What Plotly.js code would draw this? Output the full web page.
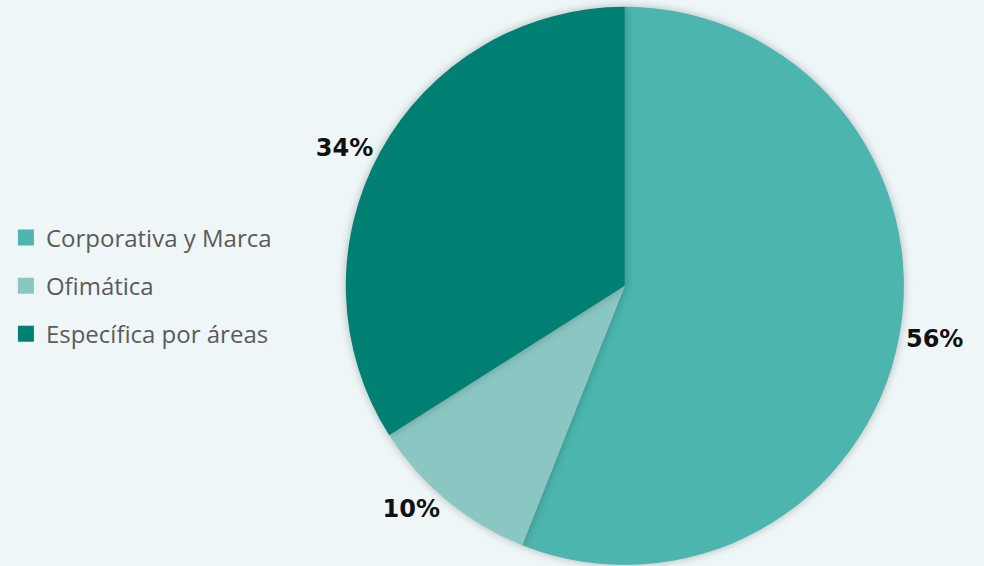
<!DOCTYPE html>
<html><head><meta charset="utf-8">
<script src="https://cdn.plot.ly/plotly-3.0.1.min.js"></script>
<style>html,body{margin:0;padding:0;background:#eef6f7;}#chart{width:984px;height:566px;}
#chart .slice path.surface{filter:drop-shadow(0 0 4px rgba(0,0,0,0.25));}</style>
</head><body><div id="chart"></div>
<script>
const categories = ["Corporativa y Marca", "Ofimática", "Específica por áreas"];
const values = [56, 10, 34];
const colors = ["#4bb5ae", "#8ac7c3", "#008073"];

const pie = {
  type: "pie",
  labels: categories,
  values: values,
  sort: false,
  direction: "clockwise",
  rotation: 0,
  marker: {colors: colors, line: {width: 0}},
  texttemplate: "%{percent:.0%}",
  textposition: "outside",
  outsidetextfont: {family: "DejaVu Sans", size: 24, color: "#111", weight: "bold"},
  textfont: {family: "DejaVu Sans", size: 24, color: "#111", weight: "bold"},
  showlegend: false,
  hoverinfo: "label+percent",
  domain: {x: [0.29, 0.98], y: [0.002, 0.988]},
  automargin: false
};
const legendTraces = categories.map((c, i) => ({
  type: "scatter", mode: "markers", x: [null], y: [null], name: c,
  legendgroup: "g" + i,
  marker: {symbol: "square", size: 17, color: colors[i]}
}));

const layout = {
  width: 984, height: 566,
  margin: {l: 0, r: 0, t: 0, b: 0},
  paper_bgcolor: "#eef6f7", plot_bgcolor: "#eef6f7",
  xaxis: {visible: false}, yaxis: {visible: false},
  showlegend: true,
  legend: {x: 0.006, y: 0.495, xanchor: "left", yanchor: "middle",
    font: {family: "Open Sans", size: 24, color: "#5b5b5b"},
    tracegroupgap: 14, traceorder: "grouped", itemwidth: 30,
    bgcolor: "rgba(0,0,0,0)"}
};
Plotly.newPlot("chart", [pie, ...legendTraces], layout, {staticPlot: true});
</script></body></html>
